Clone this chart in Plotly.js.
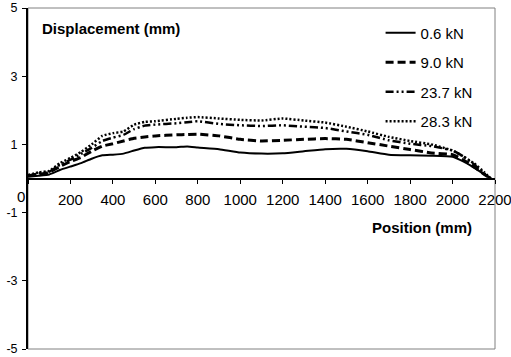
<!DOCTYPE html>
<html>
<head>
<meta charset="utf-8">
<script src="https://cdn.plot.ly/plotly-3.0.1.min.js"></script>
<style>html,body{margin:0;padding:0;background:#fff;}#chart{width:511px;height:357px;}</style>
</head>
<body>
<div id="chart"></div>
<script>
var position = [0, 50, 100, 150, 200, 250, 300, 350, 400, 450, 500, 550, 600, 700, 750, 800, 900, 1000, 1100, 1200, 1300, 1400, 1500, 1600, 1700, 1800, 1900, 2000, 2050, 2100, 2150, 2180];
var load06  = [0.05, 0.08, 0.12, 0.25, 0.35, 0.45, 0.58, 0.68, 0.70, 0.73, 0.82, 0.90, 0.92, 0.92, 0.94, 0.91, 0.86, 0.76, 0.73, 0.74, 0.80, 0.86, 0.87, 0.80, 0.70, 0.68, 0.67, 0.64, 0.50, 0.32, 0.12, 0.00];
var load90  = [0.08, 0.12, 0.18, 0.35, 0.50, 0.62, 0.80, 0.95, 1.02, 1.10, 1.18, 1.22, 1.25, 1.28, 1.29, 1.30, 1.25, 1.15, 1.10, 1.12, 1.15, 1.17, 1.15, 1.05, 0.95, 0.85, 0.75, 0.70, 0.55, 0.35, 0.12, 0.00];
var load237 = [0.08, 0.15, 0.20, 0.40, 0.55, 0.72, 0.90, 1.10, 1.20, 1.28, 1.45, 1.55, 1.58, 1.62, 1.65, 1.68, 1.60, 1.56, 1.54, 1.56, 1.52, 1.48, 1.38, 1.28, 1.12, 1.02, 0.95, 0.82, 0.65, 0.42, 0.15, 0.00];
var load283 = [0.10, 0.18, 0.22, 0.45, 0.60, 0.78, 1.00, 1.25, 1.33, 1.38, 1.58, 1.66, 1.68, 1.75, 1.78, 1.80, 1.76, 1.72, 1.70, 1.76, 1.70, 1.64, 1.52, 1.38, 1.22, 1.10, 1.00, 0.82, 0.65, 0.45, 0.18, 0.00];
var seriesNames = ["0.6 kN", "9.0 kN", "23.7 kN", "28.3 kN"];
var xTickVals = [0, 200, 400, 600, 800, 1000, 1200, 1400, 1600, 1800, 2000, 2200];
var yTickVals = [-5, -3, -1, 1, 3, 5];
var yTickText = ["-5", "-3", "-1", "1", "3", "5"];

var styles = [
  {dash: "solid", width: 2},
  {dash: "8px,4px", width: 3},
  {dash: "8px,3px,2px,3px,2px,3px", width: 2.5},
  {dash: "2px,2px", width: 2.5}
];
var ys = [load06, load90, load237, load283];
var data = ys.map(function (y, i) {
  return {
    x: position, y: y, name: seriesNames[i], type: "scatter", mode: "lines",
    legendgroup: "g" + i,
    line: {color: "#000", width: styles[i].width, dash: styles[i].dash, shape: "spline", smoothing: 0.4}
  };
});

var xText = xTickVals.map(function (v) { return v === 0 ? "" : String(v); });

var layout = {
  width: 511, height: 357,
  margin: {l: 28, r: 16, t: 8, b: 8},
  paper_bgcolor: "#fff", plot_bgcolor: "#fff",
  font: {family: "Liberation Sans, Arial, sans-serif", color: "#000"},
  showlegend: true,
  legend: {x: 0.755, y: 0.975, xanchor: "left", yanchor: "top", bgcolor: "rgba(0,0,0,0)",
           font: {size: 15}, tracegroupgap: 7, itemwidth: 30},
  xaxis: {
    range: [0, 2200], anchor: "free", position: 0.5,
    tickmode: "array", tickvals: xTickVals, ticktext: xText,
    ticks: "outside", ticklen: 4, tickcolor: "#000", tickwidth: 1,
    showline: true, linecolor: "#000", linewidth: 2,
    showgrid: false, zeroline: false, ticklabeloverflow: "allow",
    tickfont: {size: 15}, ticklabelstandoff: 3
  },
  yaxis: {
    range: [-5, 5], tickmode: "array", tickvals: yTickVals, ticktext: yTickText,
    ticks: "outside", ticklen: 4, tickcolor: "#000", tickwidth: 1,
    showline: true, linecolor: "#000", linewidth: 2,
    showgrid: false, zeroline: false, ticklabeloverflow: "allow",
    tickfont: {size: 12.5}, ticklabelstandoff: 2
  },
  shapes: [
    {type: "rect", xref: "paper", yref: "paper", x0: 0, x1: 1, y0: 0, y1: 1,
     line: {color: "#808080", width: 1}, layer: "below"}
  ],
  annotations: [
    {text: "<b>Displacement (mm)</b>", xref: "paper", yref: "paper", x: 0.025, y: 0.94,
     xanchor: "left", yanchor: "middle", showarrow: false, font: {size: 15}},
    {text: "<b>Position (mm)</b>", xref: "paper", yref: "paper", x: 0.844, y: 0.355,
     xanchor: "center", yanchor: "middle", showarrow: false, font: {size: 15}},
    {text: String(xTickVals[0]), xref: "x", yref: "y", x: xTickVals[0], y: 0, xshift: -7, yshift: -18,
     xanchor: "center", yanchor: "middle", showarrow: false, font: {size: 15}}
  ]
};

Plotly.newPlot("chart", data, layout, {staticPlot: true, displayModeBar: false});
</script>
</body>
</html>
